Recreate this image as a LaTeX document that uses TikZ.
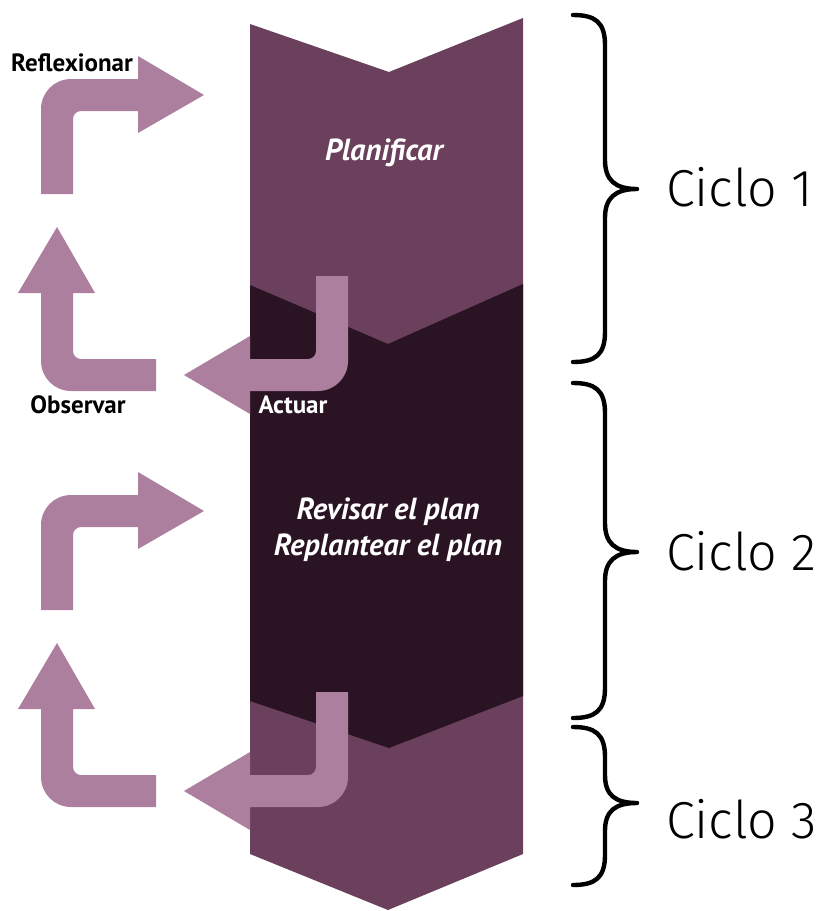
\documentclass[tikz,border=0pt]{standalone}
\usepackage{fontspec}
\newfontfamily\lab{PT Sans}
\newfontfamily\cyc{Fira Sans Light}
\definecolor{medp}{HTML}{6A405C}
\definecolor{darkp}{HTML}{2A1424}
\definecolor{lightp}{HTML}{AD7F9E}
\begin{document}
\begin{tikzpicture}[x=1pt,y=-1pt,
  arr/.style={fill=lightp},
  brace/.style={draw=black,line width=4.4pt,line cap=round,line join=round},
  small/.style={font=\lab\bfseries\fontsize{25}{30}\selectfont},
  mid/.style={font=\lab\bfseries\itshape\fontsize{30.5}{36}\selectfont,text=white,align=center},
  cyc/.style={font=\cyc\fontsize{52}{60}\selectfont,anchor=west,inner sep=0pt}]
\useasboundingbox (0,0) rectangle (825,911);
% column
\fill[medp] (250,24) -- (389,72) -- (523,18) -- (523,854) -- (388,910) -- (250,854) -- cycle;
\fill[darkp] (250,285) -- (388,344) -- (523,284) -- (523,696) -- (389,748) -- (250,701) -- cycle;
% arrows, two cycles
\foreach \dy in {0,416}{
\begin{scope}[shift={(0,\dy)}]
\fill[arr] (41,194) -- (41,109) .. controls (41,92.4) and (54.4,79) .. (71,79) -- (138,79) -- (138,56) -- (204,95) -- (138,133) -- (138,111) -- (81,111) .. controls (76.6,111) and (73,114.6) .. (73,119) -- (73,194) -- cycle;
\fill[arr] (156,359) -- (81,359) .. controls (76.6,359) and (73,355.4) .. (73,351) -- (73,293) -- (95,293) -- (57,227) -- (18,293) -- (41,293) -- (41,361) .. controls (41,377.6) and (54.4,391) .. (71,391) -- (156,391) -- cycle;
\fill[arr] (316,276) -- (348,276) -- (348,361) .. controls (348,377.6) and (334.6,391) .. (318,391) -- (250,391) -- (250,414) -- (184,375) -- (250,336) -- (250,359) -- (308,359) .. controls (312.4,359) and (316,355.4) .. (316,351) -- cycle;
\end{scope}}
% labels
\node[small] (refl) at (72,63) {Reflexionar};
\node[small] (obs) at (78,405) {Observar};
\node[small,text=white] (act) at (293,405) {Actuar};
\node[mid] (plan) at (384,153) {Planificar};
\node[mid] (rev) at (388,530) {Revisar el plan\\Replantear el plan};
% braces
\draw[brace] (573,15) .. controls (595,15) and (605,22) .. (605,45) -- (605,160) .. controls (605,180) and (615,189) .. (637,189) .. controls (615,189) and (605,198) .. (605,218) -- (605,332) .. controls (605,355) and (595,362) .. (573,362);
\draw[brace] (573,383) .. controls (595,383) and (605,390) .. (605,413) -- (605,523) .. controls (605,543) and (615,552) .. (637,552) .. controls (615,552) and (605,561) .. (605,581) -- (605,688) .. controls (605,711) and (595,718) .. (573,718);
\draw[brace] (573,727) .. controls (595,727) and (605,734) .. (605,757) -- (605,775) .. controls (605,795) and (615,803) .. (637,803) .. controls (615,803) and (605,811) .. (605,831) -- (605,855) .. controls (605,878) and (595,885) .. (573,885);
\node[cyc] (c1) at (666,187) {Ciclo 1};
\node[cyc] (c2) at (666,551) {Ciclo 2};
\node[cyc] (c3) at (666,819) {Ciclo 3};
\end{tikzpicture}
\end{document}
